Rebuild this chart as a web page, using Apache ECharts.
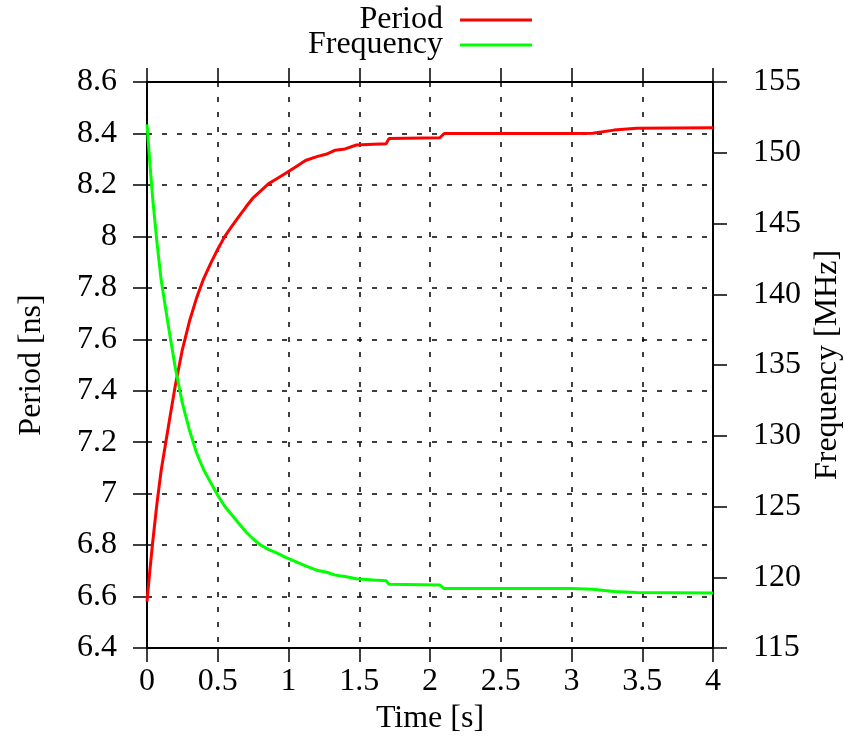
<!DOCTYPE html>
<html>
<head>
<meta charset="utf-8">
<script src="https://cdn.jsdelivr.net/npm/echarts@6/dist/echarts.min.js"></script>
<style>
html,body{margin:0;padding:0;background:#fff;}
#chart{width:844px;height:747px;}
</style>
</head>
<body>
<div id="chart"></div>
<script>
// Data
var time = [0, 0.02, 0.04, 0.07, 0.10, 0.13, 0.16, 0.20, 0.25, 0.30, 0.35, 0.40, 0.45, 0.50, 0.55, 0.60, 0.65, 0.70, 0.75, 0.80, 0.86, 0.92, 0.98, 1.05, 1.12, 1.20, 1.27, 1.33, 1.40, 1.48, 1.60, 1.69, 1.71, 2.07, 2.10, 2.50, 3.00, 3.15, 3.30, 3.46, 4.00];
var period = [6.58, 6.70, 6.81, 6.96, 7.09, 7.19, 7.29, 7.42, 7.56, 7.67, 7.76, 7.835, 7.895, 7.95, 8.00, 8.04, 8.078, 8.115, 8.15, 8.175, 8.205, 8.225, 8.245, 8.27, 8.295, 8.31, 8.32, 8.335, 8.34, 8.355, 8.358, 8.36, 8.38, 8.383, 8.40, 8.40, 8.40, 8.401, 8.413, 8.42, 8.422];
var frequency = [152.0, 149.3, 146.8, 143.7, 141.0, 139.1, 137.2, 134.8, 132.3, 130.4, 128.8, 127.6, 126.7, 125.8, 125.0, 124.4, 123.8, 123.2, 122.7, 122.3, 121.95, 121.7, 121.4, 121.1, 120.8, 120.5, 120.35, 120.15, 120.05, 119.9, 119.8, 119.75, 119.5, 119.45, 119.2, 119.2, 119.2, 119.15, 119.0, 118.92, 118.88];
var seriesNames = ['Period', 'Frequency'];
var axisNames = {x: 'Time [s]', yLeft: 'Period [ns]', yRight: 'Frequency [MHz]'};

var FONT = '"Liberation Serif", "Times New Roman", serif';
var FS = 32;

function pairs(xs, ys) { return xs.map(function (x, i) { return [x, ys[i]]; }); }

var chart = echarts.init(document.getElementById('chart'), null, {renderer: 'canvas'});

var axisLine = {show: true, onZero: false, lineStyle: {color: '#000', width: 2}};
var axisTick = {show: true, inside: false, length: 14, lineStyle: {color: '#000', width: 1.5}};
var gridLine = {show: true, lineStyle: {color: '#000', width: 1.5, type: [5, 10]}};
var labelStyle = {color: '#000', fontFamily: FONT, fontSize: FS};

var option = {
  animation: false,
  backgroundColor: '#fff',
  textStyle: {fontFamily: FONT},
  grid: {left: 147, right: 131, top: 82, bottom: 99, containLabel: false, outerBoundsMode: 'none'},
  legend: [
    {
      data: [seriesNames[0]], orient: 'vertical', align: 'right', right: 312, top: 4, padding: 0,
      icon: 'rect', itemWidth: 72, itemHeight: 3,
      textStyle: {color: '#000', fontFamily: FONT, fontSize: FS, lineHeight: 32, padding: [0, 12, 0, 0]}
    },
    {
      data: [seriesNames[1]], orient: 'vertical', align: 'right', right: 312, top: 29, padding: 0,
      icon: 'rect', itemWidth: 72, itemHeight: 3,
      textStyle: {color: '#000', fontFamily: FONT, fontSize: FS, lineHeight: 32, padding: [0, 12, 0, 0]}
    }
  ],
  xAxis: [
    {
      type: 'value', position: 'bottom', min: 0, max: 4, interval: 0.5,
      name: axisNames.x, nameLocation: 'middle', nameGap: 50,
      nameTextStyle: {color: '#000', fontFamily: FONT, fontSize: FS},
      axisLine: axisLine, axisTick: axisTick,
      axisLabel: Object.assign({margin: 18}, labelStyle),
      splitLine: gridLine
    },
    {
      type: 'value', position: 'top', min: 0, max: 4, interval: 0.5,
      axisLine: axisLine, axisTick: axisTick,
      axisLabel: {show: false}, splitLine: {show: false}
    }
  ],
  yAxis: [
    {
      type: 'value', position: 'left', min: 6.4, max: 8.6, interval: 0.2,
      name: axisNames.yLeft, nameLocation: 'middle', nameGap: 99, nameRotate: 90,
      nameTextStyle: {color: '#000', fontFamily: FONT, fontSize: FS},
      axisLine: axisLine, axisTick: axisTick,
      axisLabel: Object.assign({margin: 30}, labelStyle),
      splitLine: gridLine
    },
    {
      type: 'value', position: 'right', min: 115, max: 155, interval: 5,
      name: axisNames.yRight, nameLocation: 'middle', nameGap: 91, nameRotate: 90,
      nameTextStyle: {color: '#000', fontFamily: FONT, fontSize: FS},
      axisLine: axisLine, axisTick: axisTick,
      axisLabel: Object.assign({margin: 40}, labelStyle),
      splitLine: {show: false}
    }
  ],
  series: [
    {
      name: seriesNames[0], type: 'line', xAxisIndex: 0, yAxisIndex: 0,
      data: pairs(time, period), showSymbol: false, symbol: 'none',
      lineStyle: {color: '#ff0000', width: 3}, itemStyle: {color: '#ff0000'}, z: 3
    },
    {
      name: seriesNames[1], type: 'line', xAxisIndex: 0, yAxisIndex: 1,
      data: pairs(time, frequency), showSymbol: false, symbol: 'none',
      lineStyle: {color: '#00ff00', width: 3}, itemStyle: {color: '#00ff00'}, z: 3
    }
  ]
};
chart.setOption(option);
</script>
</body>
</html>
